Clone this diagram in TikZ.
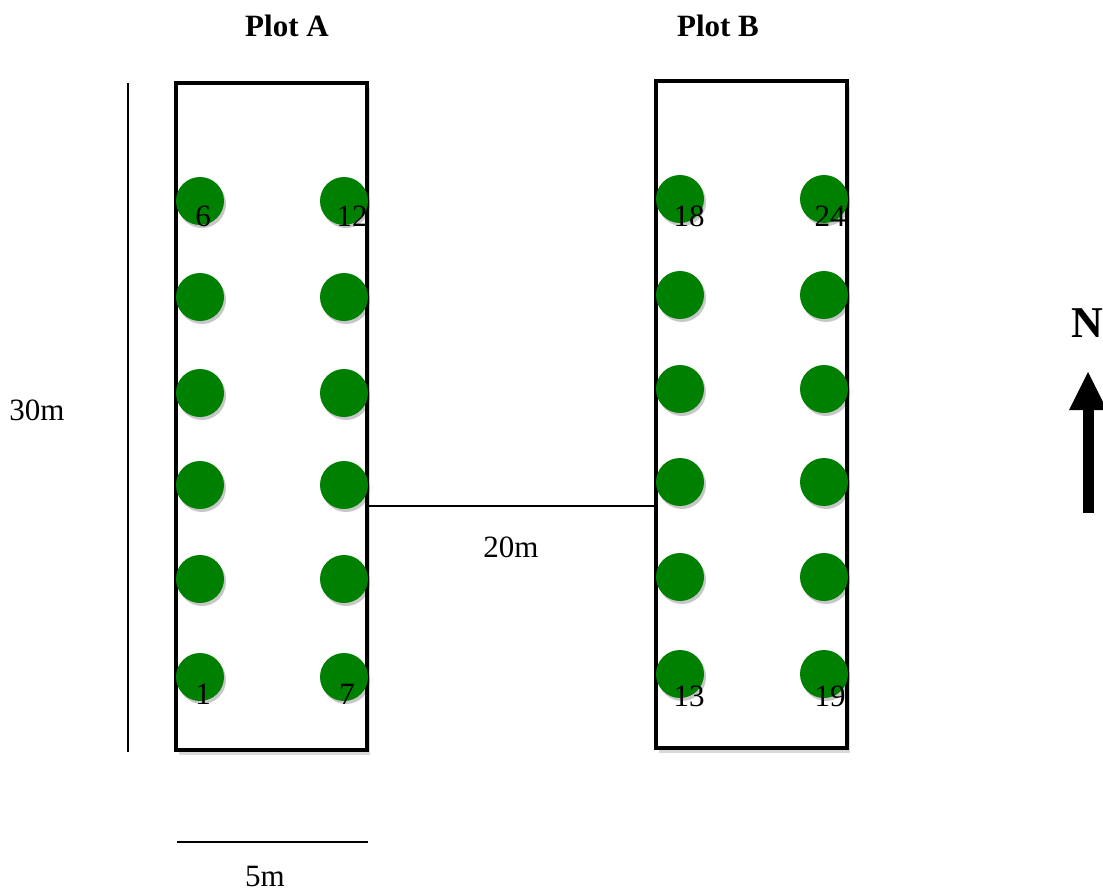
\documentclass[tikz,border=0pt]{standalone}
\usepackage{fontspec}
\setmainfont{Liberation Serif}
\usetikzlibrary{shadows,calc}
\definecolor{tree}{RGB}{0,128,0}
\tikzset{
  plotbox/.style={draw=black, line width=3.5pt, fill=white, minimum width=191pt, minimum height=667pt, inner sep=0pt,
    drop shadow={shadow xshift=3pt, shadow yshift=-5pt, opacity=0.15, fill=black}},
  tree/.style={circle, fill=tree, minimum size=48pt, inner sep=0pt,
    drop shadow={shadow xshift=2pt, shadow yshift=-3pt, opacity=0.22, fill=black}},
  num/.style={font=\fontsize{31}{33}\selectfont, inner sep=0pt},
  lab/.style={font=\fontsize{31}{33}\selectfont, inner sep=0pt},
  title/.style={font=\fontsize{31}{33}\selectfont\bfseries, inner sep=0pt},
  measure/.style={line width=2.2pt, draw=black}
}
\begin{document}
\begin{tikzpicture}[x=1pt,y=-1pt]
\useasboundingbox (0,0) rectangle (1103,894);
\clip (0,0) rectangle (1103,894);
% titles
\node[title] (ta) at (287,26) {Plot A};
\node[title] (tb) at (718,26) {Plot B};
% plots
\node[plotbox] (plotA) at (271.5,416.5) {};
\node[plotbox] (plotB) at (751.5,414.5) {};
% trees
\foreach \y [count=\i] in {677,579,485,393,297,201} {
  \node[tree] (a1\i) at (200,\y) {};
  \node[tree] (a2\i) at (344,\y) {};
}
\foreach \y [count=\i] in {674,577,482,389,295,199} {
  \node[tree] (b1\i) at (680,\y) {};
  \node[tree] (b2\i) at (824,\y) {};
}
% tree numbers
\node[num] (n6) at (203,216) {6};
\node[num] (n12) at (352,216) {12};
\node[num] (n1) at (203,694) {1};
\node[num] (n7) at (347,694) {7};
\node[num] (n18) at (689,216) {18};
\node[num] (n24) at (830,216) {24};
\node[num] (n13) at (689,696) {13};
\node[num] (n19) at (830,696) {19};
% 20m
\coordinate (c20a) at (367,506);
\coordinate (c20b) at (656,506);
\draw[line width=1.5pt] (c20a) -- (c20b);
\node[lab] (l20) at (511,547) {20m};
% 30m
\coordinate (v1) at (128,83);
\coordinate (v2) at (128,752);
\draw[measure, drop shadow={shadow xshift=2pt, shadow yshift=-4pt, opacity=0.15, fill=black}] (v1) -- (v2);
\node[lab] (l30) at (37,410) {30m};
% 5m
\coordinate (h1) at (177,842);
\coordinate (h2) at (368,842);
\draw[measure] (h1) -- (h2);
\node[lab] (l5) at (265,876) {5m};
% north arrow
\node[font=\fontsize{44}{46}\selectfont\bfseries, inner sep=0pt, anchor=west] (N) at (1071,323) {N};
\coordinate (s1) at (1088,513);
\coordinate (s2) at (1088,405);
\draw[line width=11pt] (s1) -- (s2);
\fill (1069,410) -- (1088,372) -- (1107,410) -- cycle;
\end{tikzpicture}
\end{document}
